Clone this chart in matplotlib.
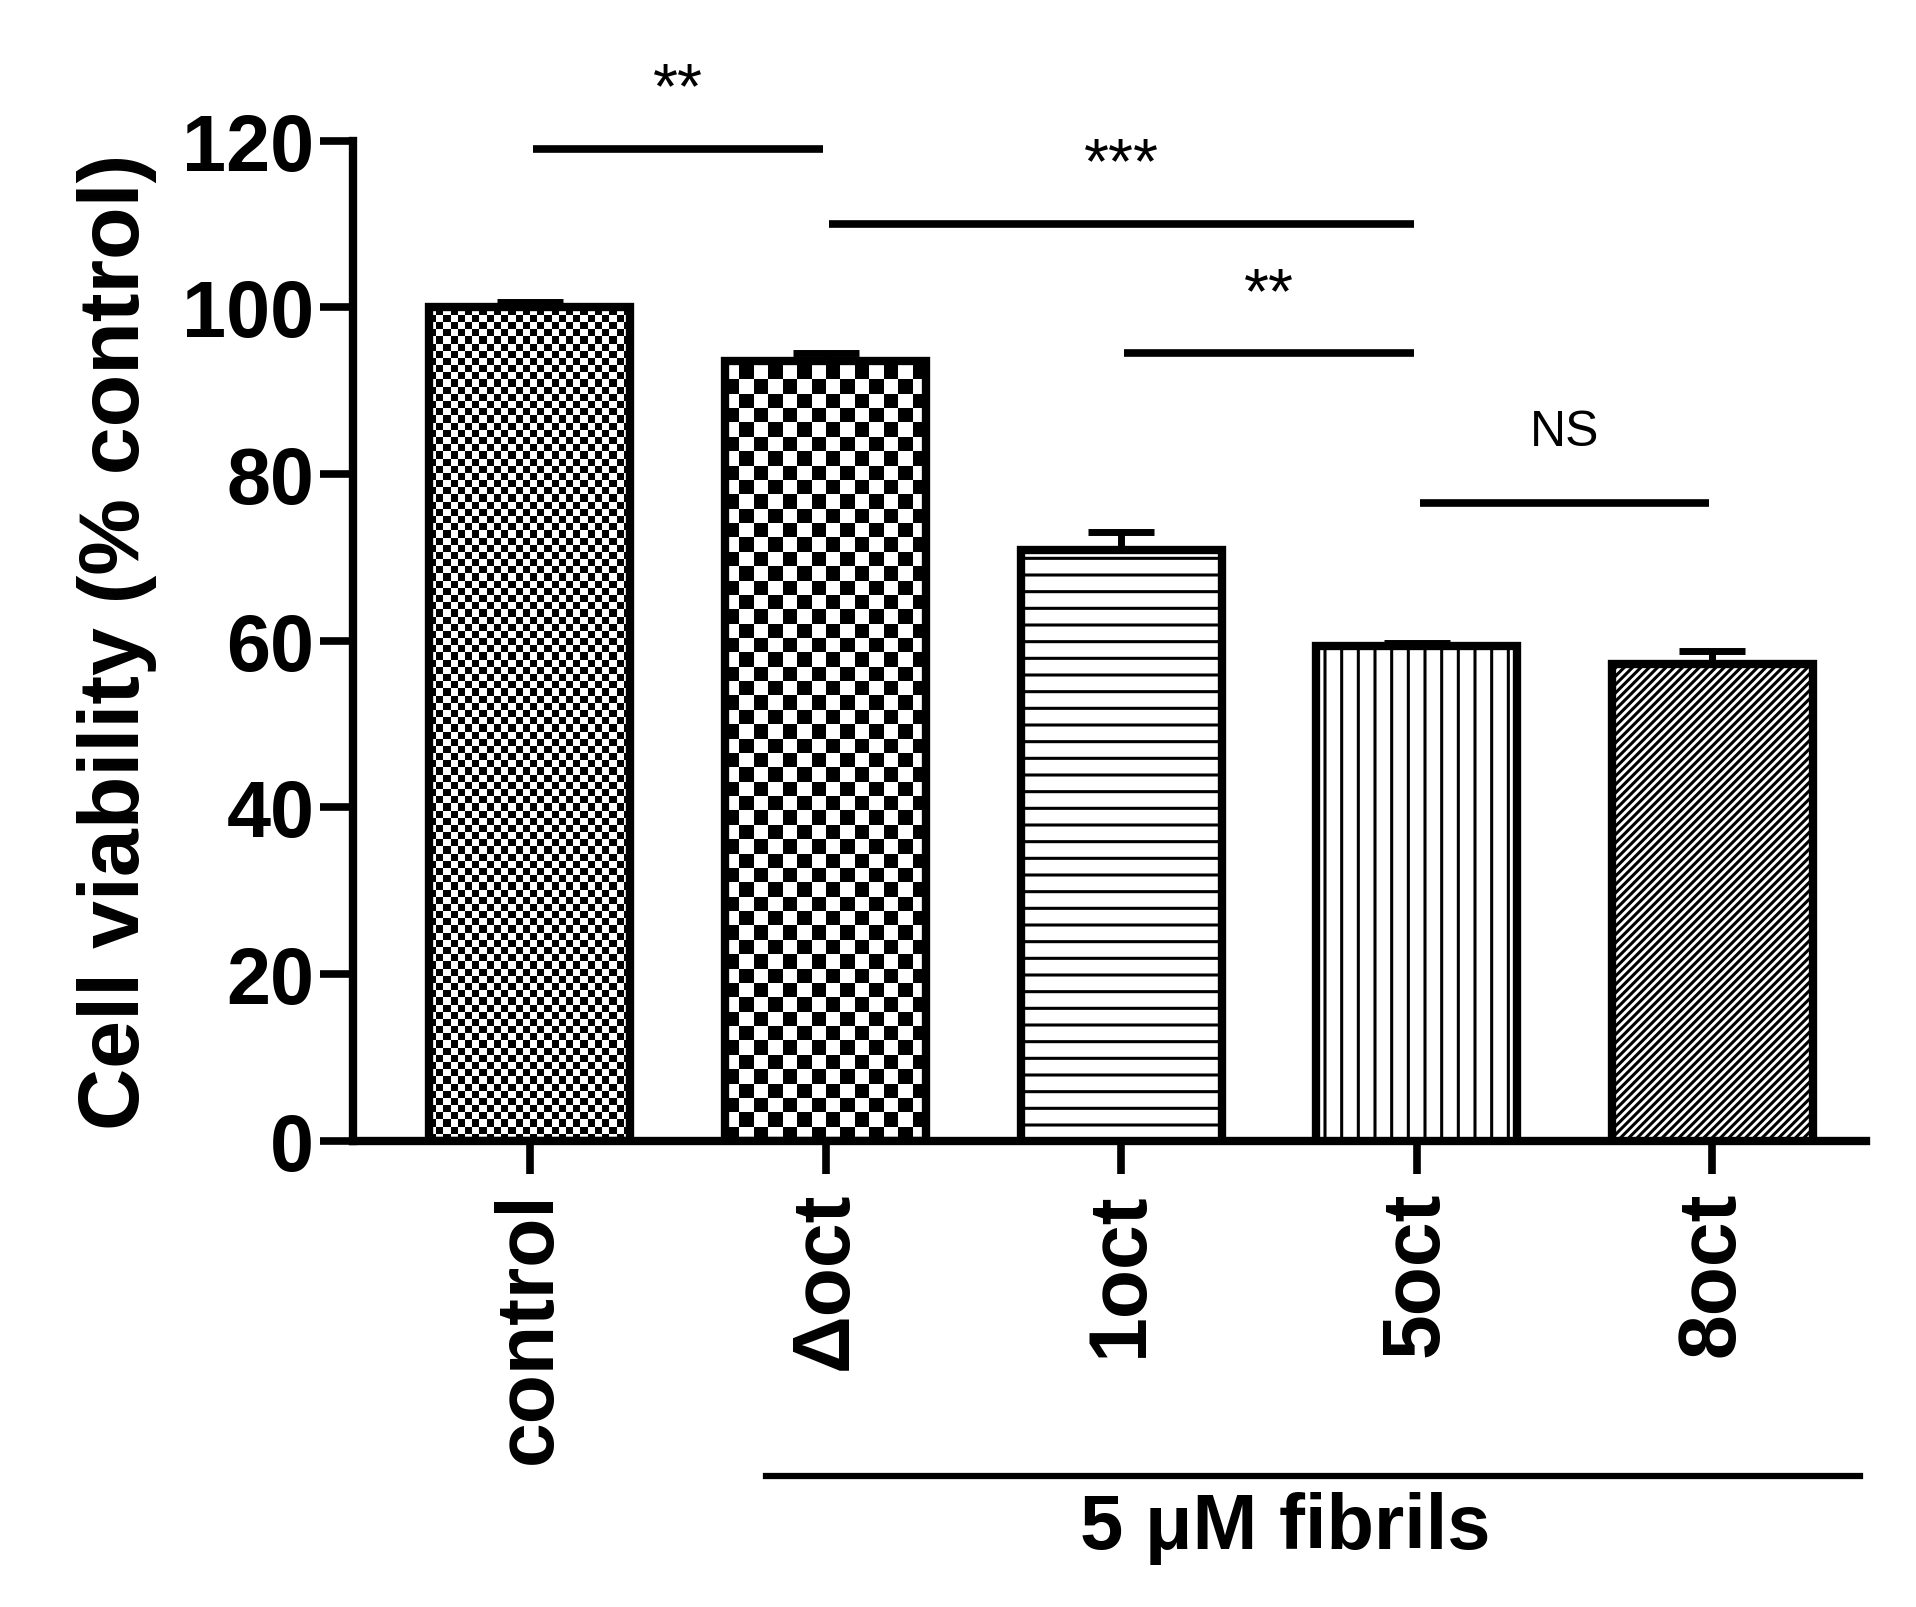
import numpy as np
import matplotlib
matplotlib.use("Agg")
import matplotlib.pyplot as plt

categories = ["control", "Δoct", "1oct", "5oct", "8oct"]
values = [100, 93.5, 70.9, 59.4, 57.2]
errors = [0.6, 1.0, 2.1, 0.3, 1.6]
yticks = [0, 20, 40, 60, 80, 100, 120]
sig_pairs = [(0, 1, 119, "**"), (1, 3, 110, "***"), (2, 3, 94.5, "**"), (3, 4, 76.5, "NS")]
sig_text_y = [126.0, 117.0, 101.5, 85]

plt.rcParams['font.family'] = ['Liberation Sans', 'DejaVu Sans']
plt.rcParams['hatch.linewidth'] = 2.2
fig = plt.figure(figsize=(19.16, 16.08), dpi=100)
ax = fig.add_axes([0.184, 0.29, 0.79, 0.622])
x = np.arange(len(categories))
w = 0.68
hatches = [None, None, '-', '|', '////']
for i, (v, e) in enumerate(zip(values, errors)):
    ax.errorbar(x[i], v, yerr=[[0], [e]], fmt='none', ecolor='black', elinewidth=5, capsize=24, capthick=5, zorder=2)
    bar = ax.bar(x[i], v, width=w, facecolor='white', edgecolor='black', linewidth=6,
                 hatch=hatches[i], zorder=3)[0]
    if i in (0, 1):
        n = 28 if i == 0 else 14
        cell_x = w / n
        cell_y = cell_x * (0.79 * 1916 / 5.12) / (0.622 * 1608 / 120)
        nr = int(np.ceil(v / cell_y))
        board = (np.add.outer(np.arange(nr), np.arange(n)) % 2).astype(float)
        im = ax.imshow(board, cmap='gray', extent=[x[i] - w/2, x[i] + w/2, 0, nr * cell_y],
                       origin='lower', aspect='auto', interpolation='nearest', zorder=2.5)
        im.set_clip_path(bar)
        bar.set_facecolor('none')
ax.set_xlim(-0.6, 4.52)
ax.set_ylim(0, 120)
ax.set_yticks(yticks)
ax.set_xticks(x)
ax.set_xticklabels(categories, rotation=90, fontsize=58, fontweight='bold')
ax.tick_params(axis='y', labelsize=57, width=5.5, length=24, direction='out')
for t in ax.get_yticklabels():
    t.set_fontweight('bold')
ax.tick_params(axis='x', width=5.5, length=24, direction='out', pad=12)
for s in ['top', 'right']:
    ax.spines[s].set_visible(False)
for s in ['left', 'bottom']:
    ax.spines[s].set_linewidth(6)
ax.set_ylabel("Cell viability (% control)", fontsize=62, fontweight='bold', labelpad=18)

for (a, b, y, t), ty in zip(sig_pairs, sig_text_y):
    ax.plot([x[a] + 0.01, x[b] - 0.01], [y, y], color='black', lw=5.5, clip_on=False, solid_capstyle='butt')
    ax.text((x[a] + x[b]) / 2, ty, t, ha='center', va='center',
            fontsize=36 if t == 'NS' else 46, clip_on=False)

fig.add_artist(plt.Line2D([620/1550, 1505/1550], [1 - 1195/1301] * 2, color='black', lw=4.5))
fig.text(1040/1550, 1 - 1237/1301, "5 μM fibrils", ha='center', va='center', fontsize=56, fontweight='bold')
fig.savefig("out.png", dpi=100, facecolor='white')
